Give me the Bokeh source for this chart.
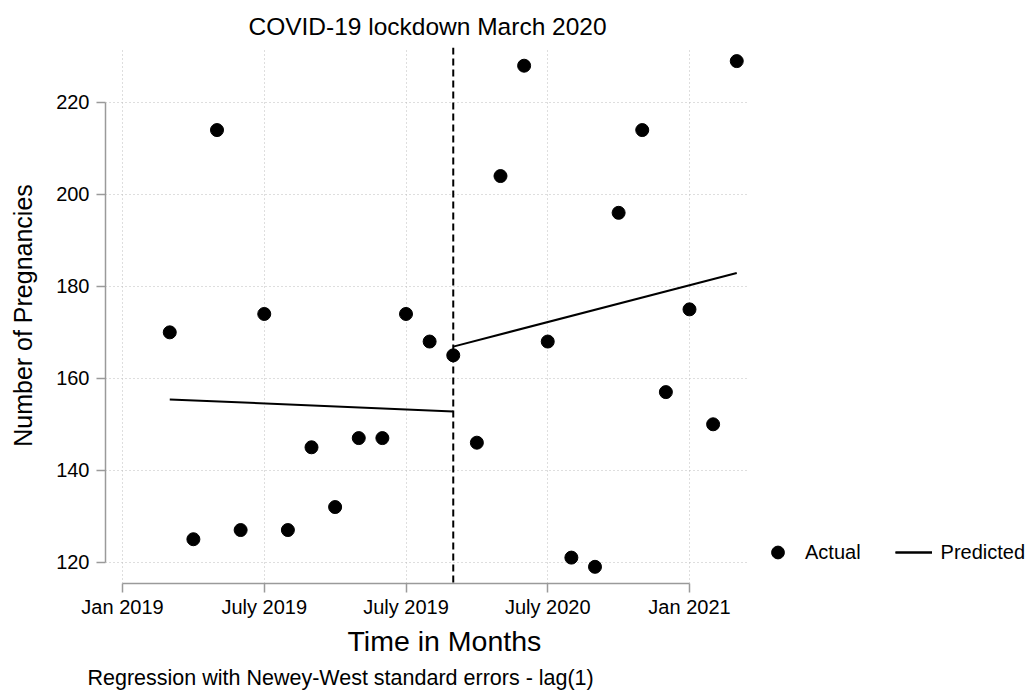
from bokeh.plotting import figure
from bokeh.models import (Range1d, FixedTicker, Span, Legend, LegendItem, Title)
from bokeh.embed import file_html
from bokeh.resources import INLINE

# ---- data ----
months = [2, 3, 4, 5, 6, 7, 8, 9, 10, 11, 12, 13, 14, 15, 16, 17, 18, 19, 20, 21, 22, 23, 24, 25, 26]
actual = [170, 125, 214, 127, 174, 127, 145, 132, 147, 147, 174, 168, 165,
          146, 204, 228, 168, 121, 119, 196, 214, 157, 175, 150, 229]
pred_pre_x = [2, 14]
pred_pre_y = [155.4, 152.8]
pred_post_x = [14, 26]
pred_post_y = [166.9, 182.9]
lockdown_month = 14
x_tick_pos = [0, 6, 12, 18, 24]
x_tick_labels = ["Jan 2019", "July 2019", "July 2019", "July 2020", "Jan 2021"]
y_ticks = [120, 140, 160, 180, 200, 220]

FONT = "Liberation Sans"

p = figure(frame_width=644, frame_height=536, output_backend="svg", toolbar_location=None,
           x_range=Range1d(-0.72, 26.54), y_range=Range1d(115.37, 231.96),
           min_border_left=105, min_border_right=280, min_border_top=47,
           min_border_bottom=100)
p.outline_line_color = None
p.background_fill_color = "white"
p.border_fill_color = "white"

# title
p.title.text = "COVID-19 lockdown March 2020"
p.title.text_font = FONT
p.title.text_font_size = "24.5px"
p.title.text_font_style = "normal"
p.title.text_color = "black"
p.title.align = "center"
p.title.standoff = 16

# axes
for ax in (p.xaxis[0], p.yaxis[0]):
    ax.axis_line_color = "#9a9a9a"
    ax.axis_line_width = 1.5
    ax.major_tick_line_color = "#9a9a9a"
    ax.major_tick_line_width = 1.5
    ax.major_tick_out = 9
    ax.major_tick_in = 0
    ax.minor_tick_line_color = None
    ax.major_label_text_font = FONT
    ax.major_label_text_font_size = "20px"
    ax.major_label_text_color = "black"
    ax.axis_label_text_font = FONT
    ax.axis_label_text_font_style = "normal"
    ax.axis_label_text_color = "black"

xa = p.xaxis[0]
xa.ticker = FixedTicker(ticks=x_tick_pos)
xa.major_label_overrides = {t: l for t, l in zip(x_tick_pos, x_tick_labels)}
xa.bounds = (x_tick_pos[0], x_tick_pos[-1])
xa.major_label_standoff = 3

ya = p.yaxis[0]
ya.ticker = FixedTicker(ticks=y_ticks)
ya.bounds = (y_ticks[0], y_ticks[-1])
ya.axis_label = "Number of Pregnancies"
ya.axis_label_text_font_size = "25px"
ya.major_label_standoff = 7
ya.axis_label_standoff = 16
ya.major_label_orientation = "horizontal"

# grids
p.xgrid[0].ticker = FixedTicker(ticks=x_tick_pos)
p.ygrid[0].ticker = FixedTicker(ticks=y_ticks)
for g in (p.xgrid[0], p.ygrid[0]):
    g.grid_line_color = "#bdbdbd"
    g.grid_line_dash = "1 3"
    g.grid_line_width = 1

# lockdown line
p.add_layout(Span(location=lockdown_month, dimension="height", line_color="black",
                  line_width=2, line_dash="7 4"))

# glyphs
r_act = p.scatter(months, actual, size=13, color="black")
r_p1 = p.line(pred_pre_x, pred_pre_y, line_color="black", line_width=2)
r_p2 = p.line(pred_post_x, pred_post_y, line_color="black", line_width=2)

legend = Legend(items=[LegendItem(label="Actual", renderers=[r_act]),
                       LegendItem(label="Predicted", renderers=[r_p1, r_p2])],
                orientation="horizontal", location=(10, 15),
                label_text_font=FONT, label_text_font_size="20px",
                label_text_color="black",
                glyph_width=37, glyph_height=32, label_standoff=9, spacing=34,
                padding=0, margin=0, border_line_color=None,
                background_fill_alpha=0)
p.add_layout(legend, "right")

# x axis title (placed as below-panel text so it can sit off-centre like the reference)
xlab = Title(text="Time in Months", align="left", text_font=FONT, text_font_size="28.5px",
             text_font_style="normal", text_color="black", offset=242, standoff=5)
p.add_layout(xlab, "below")

# caption
cap = Title(text="Regression with Newey-West standard errors - lag(1)", align="left",
            text_font=FONT, text_font_size="21.5px", text_font_style="normal",
            text_color="black", offset=-18, standoff=9)
p.add_layout(cap, "below")

open("out.html", "w").write(file_html(p, INLINE))
